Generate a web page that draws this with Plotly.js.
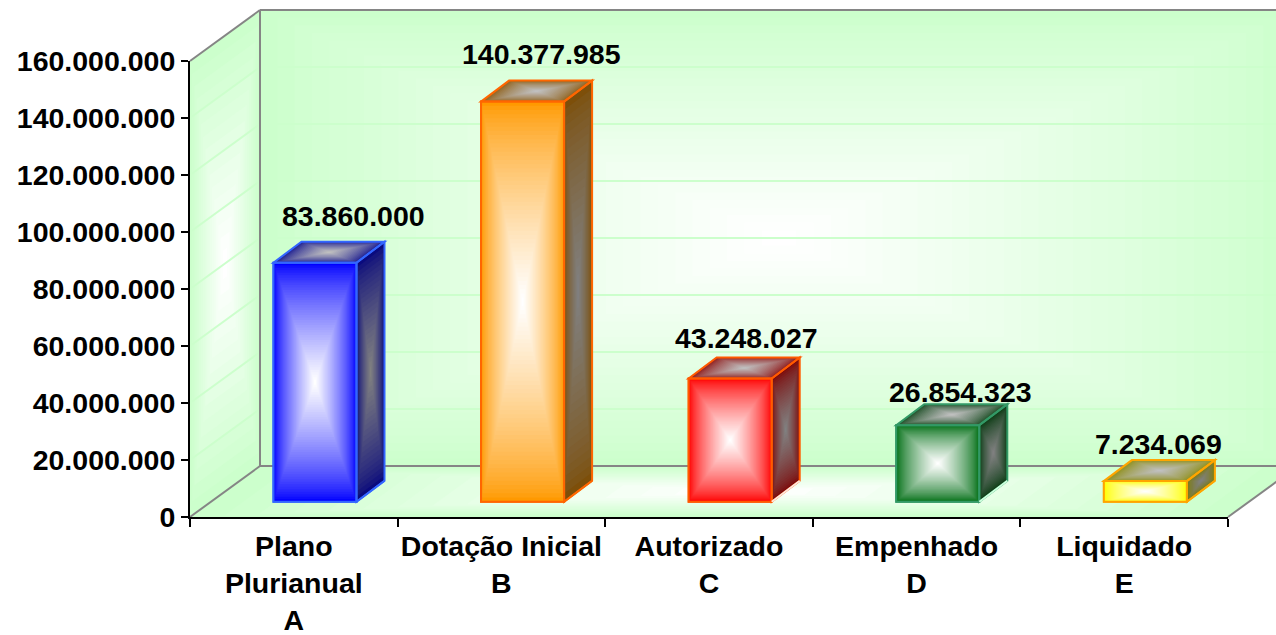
<!DOCTYPE html>
<html><head><meta charset="utf-8">
<script src="https://cdn.plot.ly/plotly-3.0.1.min.js"></script>
<style>html,body{margin:0;padding:0;background:#fff;overflow:hidden}</style></head>
<body><div id="chart" style="width:1276px;height:635px"></div>
<script>
// ---- data ----
const categories = ["Plano<br>Plurianual<br>A","Dotação Inicial<br>B","Autorizado<br>C","Empenhado<br>D","Liquidado<br>E"];
const values = [83860000,140377985,43248027,26854323,7234069];
const yTickVals = [0,20000000,40000000,60000000,80000000,100000000,120000000,140000000,160000000];
const yTickText = ["0","20.000.000","40.000.000","60.000.000","80.000.000","100.000.000","120.000.000","140.000.000","160.000.000"];
// ---- styles ----
const faceColors = [[0,0,255],[255,153,0],[255,0,0],[0,110,20],[255,255,0]];
const borderColors = ["#3366FF","#FF6600","#FF5A00","#339966","#FFA500"];
const sideBottomColors = ["#3366FF","#FF6600","#FFE6DC","#CCFFDD","#FFA500"];
const labelShiftX = [60,40,37,44,34];
const labelShiftY = [47,48,40,33,37];
// ---- geometry (px) ----
const L=190,R=1228,T=61,B=517,W=R-L,H=B-T, wallDx=70, wallDy=51;
const pxPerCat=W/categories.length, unitsPerPx=160000000/H;
const barBase=15.3*unitsPerPx, barLeft=-0.098, barWidth=0.4, depthX=28/pxPerCat, depthY=21*unitsPerPx;
const mix=(a,b,t)=>a.map((v,i)=>v+(b[i]-v)*t);
const rgb=c=>`rgb(${c.map(v=>Math.round(v)).join(",")})`;
const shapes=[];
function nested(poly,ref,cEdge,cCenter,layer,steps,gamma){
  const cx=poly.reduce((s,p)=>s+p[0],0)/poly.length, cy=poly.reduce((s,p)=>s+p[1],0)/poly.length;
  for(let k=0;k<steps;k++){
    const t=Math.pow(k/(steps-1),gamma), f=1-k/steps;
    const path=poly.map((p,i)=>(i?"L":"M")+(cx+(p[0]-cx)*f)+" "+(cy+(p[1]-cy)*f)).join(" ")+" Z";
    shapes.push({type:"path",path,xref:ref,yref:ref==="x"?"y":"paper",fillcolor:rgb(mix(cEdge,cCenter,t)),line:{width:0},layer});
  }
}
const px=x=>(x-L)/W, py=y=>(B-y)/H;
const pp=(x,y)=>[px(x),py(y)];
const green=[204,255,204], white=[255,255,255];
// walls
nested([pp(L+wallDx,T-wallDy),pp(R+wallDx,T-wallDy),pp(R+wallDx,B-wallDy),pp(L+wallDx,B-wallDy)],"paper",green,white,"below",30,0.9);
nested([pp(L,T),pp(L+wallDx,T-wallDy),pp(L+wallDx,B-wallDy),pp(L,B)],"paper",green,white,"below",16,1);
nested([pp(L,B),pp(L+wallDx,B-wallDy),pp(R+wallDx,B-wallDy),pp(R,B)],"paper",green,white,"below",16,1);
// gridlines on walls
yTickVals.slice(1,-1).forEach(v=>{
  const y=v/160000000;
  const yb=y+wallDy/H, xb=px(L+wallDx);
  shapes.push({type:"path",path:`M0 ${y} L${xb} ${yb} L${px(R+wallDx)} ${yb}`,xref:"paper",yref:"paper",line:{color:"#CCFFCC",width:2},layer:"below"});
});
// wall edges
const grey={color:"#858585",width:2};
[[L,T,L+wallDx,T-wallDy],[L+wallDx,T-wallDy,R+wallDx,T-wallDy],[L+wallDx,T-wallDy,L+wallDx,B-wallDy],[L+wallDx,B-wallDy,R+wallDx,B-wallDy],[L,B,L+wallDx,B-wallDy],[R,B,R+wallDx,B-wallDy]].forEach(s=>{
  shapes.push({type:"line",xref:"paper",yref:"paper",x0:px(s[0]),y0:py(s[1]),x1:px(s[2]),y1:py(s[3]),line:grey,layer:"below"});
});
// 3D bar faces, from the data
values.forEach((v,i)=>{
  const x0=i+barLeft, x1=x0+barWidth, y0=barBase, y1=barBase+v;
  const edge=faceColors[i], dark=edge.map(c=>c*0.45+10);
  const side=[[x1,y0],[x1+depthX,y0+depthY],[x1+depthX,y1+depthY],[x1,y1]];
  const top=[[x0,y1],[x1,y1],[x1+depthX,y1+depthY],[x0+depthX,y1+depthY]];
  const front=[[x0,y0],[x1,y0],[x1,y1],[x0,y1]];
  nested(side,"x",dark,[128,128,128],"above",24,0.75);
  nested(top,"x",dark.map(c=>c+20),[192,192,192],"above",20,0.75);
  nested(front,"x",edge,white,"above",48,0.75);
  [side,top,front].forEach(f=>{
    shapes.push({type:"path",path:f.map((p,j)=>(j?"L":"M")+p[0]+" "+p[1]).join(" ")+" Z",xref:"x",yref:"y",line:{color:borderColors[i],width:2},layer:"above"});
  });
  shapes.push({type:"line",xref:"x",yref:"y",x0:x1,y0:y0,x1:x1+depthX,y1:y0+depthY,line:{color:sideBottomColors[i],width:2},layer:"above"});
});
const labelFont={family:"Liberation Sans, Arial, sans-serif",size:28.5,color:"#000",weight:700};
const annotations=values.map((v,i)=>({
  x:i,y:barBase+v,xref:"x",yref:"y",xshift:labelShiftX[i],yshift:labelShiftY[i],
  text:String(v).replace(/\B(?=(\d{3})+$)/g,"."),showarrow:false,xanchor:"center",yanchor:"middle",font:labelFont
}));
const trace={type:"bar",x:categories,y:values,base:barBase,width:barWidth,offset:barLeft,
  marker:{color:faceColors.map(rgb),line:{color:borderColors,width:2}},hoverinfo:"x+y",showlegend:false};
const layout={width:1276,height:635,margin:{l:L,r:1276-R,t:T,b:635-B,pad:0},paper_bgcolor:"#fff",plot_bgcolor:"rgba(0,0,0,0)",
  showlegend:false,shapes,annotations,
  xaxis:{type:"category",range:[-0.5,4.5],tickson:"boundaries",ticks:"outside",ticklen:8,tickwidth:2,tickcolor:"#000",showline:true,linecolor:"#000",linewidth:2,showgrid:false,tickangle:0,tickfont:labelFont,ticklabelstandoff:3,automargin:false,fixedrange:true},
  yaxis:{range:[0,160000000],tickmode:"array",tickvals:yTickVals,ticktext:yTickText,ticks:"outside",ticklen:7,tickwidth:2,tickcolor:"#000",showline:true,linecolor:"#000",linewidth:2,showgrid:false,zeroline:false,tickfont:labelFont,automargin:false,fixedrange:true}
};
Plotly.newPlot("chart",[trace],layout,{displayModeBar:false,staticPlot:true});
</script></body></html>
